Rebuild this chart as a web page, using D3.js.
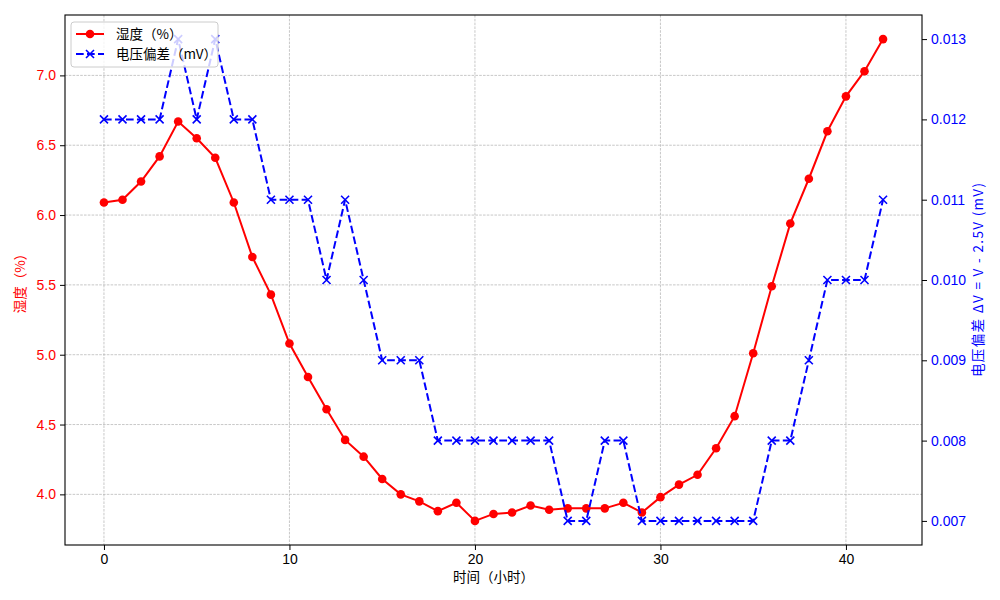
<!DOCTYPE html>
<html>
<head>
<meta charset="utf-8">
<script src="https://cdn.jsdelivr.net/npm/d3@7"></script>
<style>
  body { margin: 0; background: #fff; }
  svg { font-family: "Noto Sans CJK SC", "DejaVu Sans", sans-serif; }
</style>
</head>
<body>
<div id="chart"></div>
<script>
// hours 0..42
const hours = d3.range(0, 43);
const humidity = [
  6.09, 6.11, 6.24, 6.42, 6.67, 6.55, 6.41, 6.09, 5.70, 5.43,
  5.08, 4.84, 4.61, 4.39, 4.27, 4.11, 4.00, 3.95, 3.88, 3.94,
  3.81, 3.86, 3.87, 3.92, 3.89, 3.90, 3.90, 3.90, 3.94, 3.87,
  3.98, 4.07, 4.14, 4.33, 4.56, 5.01, 5.49, 5.94, 6.26, 6.60,
  6.85, 7.03, 7.26
];
const voltage = [
  0.012, 0.012, 0.012, 0.012, 0.013, 0.012, 0.013, 0.012, 0.012, 0.011,
  0.011, 0.011, 0.010, 0.011, 0.010, 0.009, 0.009, 0.009, 0.008, 0.008,
  0.008, 0.008, 0.008, 0.008, 0.008, 0.007, 0.007, 0.008, 0.008, 0.007,
  0.007, 0.007, 0.007, 0.007, 0.007, 0.007, 0.008, 0.008, 0.009, 0.010,
  0.010, 0.010, 0.011
];
const xTicks = [0, 10, 20, 30, 40];
const leftTicks = [4.0, 4.5, 5.0, 5.5, 6.0, 6.5, 7.0];
const rightTicks = [0.007, 0.008, 0.009, 0.010, 0.011, 0.012, 0.013];

const svgWidth = 1000;
const svgHeight = 600;
const margin = { top: 15, right: 78, bottom: 55, left: 65 };
const width = svgWidth - margin.left - margin.right;
const height = svgHeight - margin.top - margin.bottom;

const svg = d3.select('#chart').append('svg')
  .attr('width', svgWidth)
  .attr('height', svgHeight);
const group = svg.append('g')
  .attr('transform', `translate(${margin.left}, ${margin.top})`);

// padded domains like matplotlib's 5% margins
function pad(ext) {
  const r = ext[1] - ext[0];
  return [ext[0] - r * 0.05, ext[1] + r * 0.05];
}
const x = d3.scaleLinear().domain(pad(d3.extent(hours))).range([0, width]);
const yL = d3.scaleLinear().domain(pad(d3.extent(humidity))).range([height, 0]);
const yR = d3.scaleLinear().domain(pad(d3.extent(voltage))).range([height, 0]);

// grid
const grid = group.append('g')
  .attr('stroke', '#b0b0b0')
  .attr('stroke-width', 0.7)
  .attr('stroke-dasharray', '2.6,1.2');
grid.selectAll('.gx').data(xTicks).enter().append('line')
  .attr('x1', (d) => x(d)).attr('x2', (d) => x(d))
  .attr('y1', 0).attr('y2', height);
grid.selectAll('.gy').data(leftTicks).enter().append('line')
  .attr('x1', 0).attr('x2', width)
  .attr('y1', (d) => yL(d)).attr('y2', (d) => yL(d));

// humidity line
const lineH = d3.line().x((d, i) => x(hours[i])).y((d) => yL(d));
group.append('path')
  .datum(humidity)
  .attr('fill', 'none')
  .attr('stroke', 'red')
  .attr('stroke-width', 2)
  .attr('d', lineH);
group.selectAll('.dot').data(humidity).enter().append('circle')
  .attr('cx', (d, i) => x(hours[i]))
  .attr('cy', (d) => yL(d))
  .attr('r', 4.3)
  .attr('fill', 'red');

// voltage line
const lineV = d3.line().x((d, i) => x(hours[i])).y((d) => yR(d));
group.append('path')
  .datum(voltage)
  .attr('fill', 'none')
  .attr('stroke', 'blue')
  .attr('stroke-width', 2)
  .attr('stroke-dasharray', '7.7,3.3')
  .attr('d', lineV);
const s = 4;
group.selectAll('.xm').data(voltage).enter().append('path')
  .attr('transform', (d, i) => `translate(${x(hours[i])}, ${yR(d)})`)
  .attr('d', `M${-s},${-s}L${s},${s}M${-s},${s}L${s},${-s}`)
  .attr('stroke', 'blue')
  .attr('stroke-width', 1.6);

// axes
const axX = group.append('g').attr('transform', `translate(0, ${height})`)
  .call(d3.axisBottom(x).tickValues(xTicks).tickSize(5).tickPadding(4));
const axL = group.append('g')
  .call(d3.axisLeft(yL).tickValues(leftTicks).tickFormat(d3.format('.1f')).tickSize(5).tickPadding(4));
const axR = group.append('g').attr('transform', `translate(${width}, 0)`)
  .call(d3.axisRight(yR).tickValues(rightTicks).tickFormat(d3.format('.3f')).tickSize(5).tickPadding(4));
[axX, axL, axR].forEach((a) => {
  a.select('.domain').remove();
  a.selectAll('text').style('font-size', '14px').attr('font-family', null);
  a.selectAll('line').attr('stroke', '#000').attr('stroke-width', 1);
});
axX.selectAll('text').attr('fill', '#000');
axL.selectAll('text').attr('fill', 'red');
axR.selectAll('text').attr('fill', 'blue');

// frame
group.append('rect')
  .attr('width', width).attr('height', height)
  .attr('fill', 'none').attr('stroke', '#000').attr('stroke-width', 1.1);

// axis labels
svg.append('text')
  .attr('x', margin.left + width / 2).attr('y', 582)
  .attr('text-anchor', 'middle').style('font-size', '13.5px')
  .text('时间（小时）');
svg.append('text')
  .attr('transform', `translate(25, ${margin.top + height / 2}) rotate(-90)`)
  .attr('text-anchor', 'middle').attr('fill', 'red').style('font-size', '13.5px')
  .text('湿度（%）');
svg.append('text')
  .attr('transform', `translate(983, ${margin.top + height / 2}) rotate(-90)`)
  .attr('text-anchor', 'middle').attr('fill', 'blue').style('font-size', '13.5px')
  .attr('textLength', 194).attr('lengthAdjust', 'spacing')
  .text('电压偏差 ΔV = V - 2.5V (mV)');

// legend
const legend = group.append('g').attr('transform', 'translate(6, 7)');
legend.append('rect')
  .attr('width', 147).attr('height', 45).attr('rx', 3)
  .attr('fill', 'rgba(255,255,255,0.8)')
  .attr('stroke', '#cccccc');
const items = [
  { label: '湿度（%）', color: 'red', dash: null, marker: 'circle' },
  { label: '电压偏差（mV）', color: 'blue', dash: '7.7,3.3', marker: 'x' },
];
items.forEach((it, i) => {
  const yy = 12 + i * 20;
  legend.append('line')
    .attr('x1', 5).attr('x2', 33).attr('y1', yy).attr('y2', yy)
    .attr('stroke', it.color).attr('stroke-width', 2)
    .attr('stroke-dasharray', it.dash);
  if (it.marker === 'circle') {
    legend.append('circle').attr('cx', 19).attr('cy', yy).attr('r', 4.3).attr('fill', it.color);
  } else {
    legend.append('path')
      .attr('transform', `translate(19, ${yy})`)
      .attr('d', `M${-s},${-s}L${s},${s}M${-s},${s}L${s},${-s}`)
      .attr('stroke', it.color).attr('stroke-width', 1.6);
  }
  legend.append('text')
    .attr('x', 45).attr('y', yy + 5)
    .style('font-size', '13.5px')
    .text(it.label);
});
</script>
</body>
</html>
